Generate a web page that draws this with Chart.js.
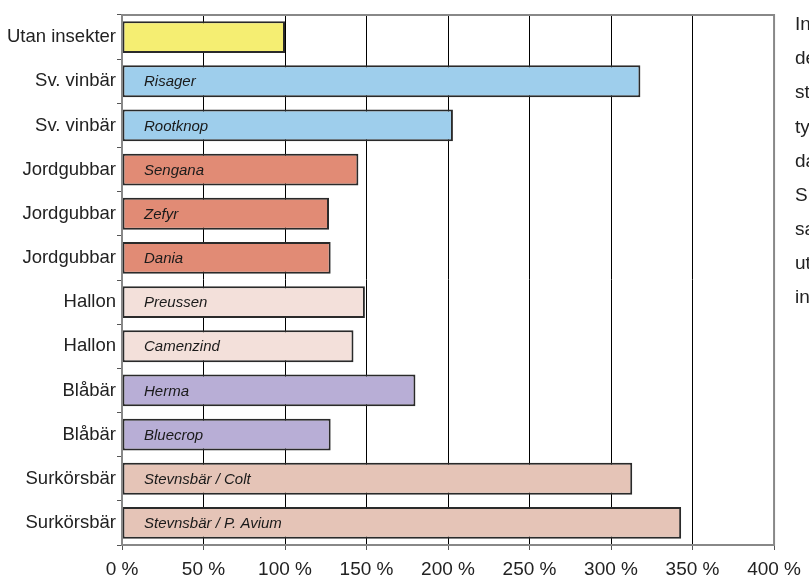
<!DOCTYPE html>
<html><head><meta charset="utf-8">
<script src="https://cdn.jsdelivr.net/npm/chart.js@4"></script>
<style>html,body{margin:0;padding:0;background:#fff;overflow:hidden}#wrap{width:809px;height:579px}</style>
</head><body><div id="wrap"><canvas id="c" width="809" height="579"></canvas></div>
<script>
const categories = ["Utan insekter","Sv. vinbär","Sv. vinbär","Jordgubbar","Jordgubbar","Jordgubbar","Hallon","Hallon","Blåbär","Blåbär","Surkörsbär","Surkörsbär"];
const varieties = ["","Risager","Rootknop","Sengana","Zefyr","Dania","Preussen","Camenzind","Herma","Bluecrop","Stevnsbär / Colt","Stevnsbär / P. Avium"];
const values = [100,318,203,145,127,128,149,142,180,128,313,343];
const xTicks = [0,50,100,150,200,250,300,350,400];
const sideText = ["In","de","st","ty","da","S","sa","ut","in"];

const barColors = ["#F5EE72","#9ECEEC","#9ECEEC","#E18B75","#E18B75","#E18B75","#F3E0DA","#F3E0DA","#B8AED6","#B8AED6","#E5C4B7","#E5C4B7"];
const FONT = "'Liberation Sans', Arial, sans-serif";

const extras = {
  id:'extras',
  afterDatasetsDraw(chart){
    const ctx = chart.ctx, ca = chart.chartArea;
    ctx.save();
    ctx.strokeStyle = '#888'; ctx.lineWidth = 2;
    ctx.strokeRect(ca.left, ca.top, ca.right-ca.left, ca.bottom-ca.top);
    const meta = chart.getDatasetMeta(0);
    ctx.font = "italic 15px " + FONT;
    ctx.fillStyle = '#1a1a1a'; ctx.textBaseline = 'middle'; ctx.textAlign='left';
    meta.data.forEach((el,i)=>{ if(varieties[i]) ctx.fillText(varieties[i], ca.left+22, el.y+1); });
    ctx.restore();
  },
  afterDraw(chart){
    const ctx = chart.ctx;
    ctx.save();
    ctx.font = "19px " + FONT; ctx.fillStyle = '#222'; ctx.textBaseline='middle'; ctx.textAlign='left';
    sideText.forEach((t,i)=> ctx.fillText(t, 795, 25 + i*34.1));
    ctx.restore();
  }
};

new Chart(document.getElementById('c'), {
  type:'bar',
  data:{ labels: categories, datasets:[{ data: values, backgroundColor: barColors, borderColor:'#2a2a2a', borderWidth:2, borderSkipped:false, barPercentage:0.72, categoryPercentage:1 }]},
  options:{
    indexAxis:'y', responsive:false, animation:false, devicePixelRatio:1,
    layout:{ padding:{ left:0, right:34, top:15, bottom:0 } },
    plugins:{ legend:{display:false}, tooltip:{enabled:false} },
    scales:{
      x:{ min:0, max:400, afterBuildTicks(s){ s.ticks = xTicks.map(v=>({value:v})); },
          afterFit(s){ s.height = 34; },
          grid:{ color:(c)=> (c.tick && (c.tick.value===0||c.tick.value===400)) ? '#888' : '#000', lineWidth:1, tickLength:5, tickColor:'#555', drawTicks:true },
          border:{ color:'#888', width:2 },
          ticks:{ callback:(v)=> v + ' %', color:'#222', font:{ family:FONT, size:19 }, padding:8, maxRotation:0, autoSkip:false } },
      y:{ afterFit(s){ s.width = 122; },
          grid:{ drawOnChartArea:false, tickLength:5, tickColor:'#555', offset:true },
          border:{ color:'#888', width:2 },
          ticks:{ color:'#222', font:{ family:FONT, size:18.5 }, padding:1, autoSkip:false } }
    }
  },
  plugins:[extras]
});
</script></body></html>
